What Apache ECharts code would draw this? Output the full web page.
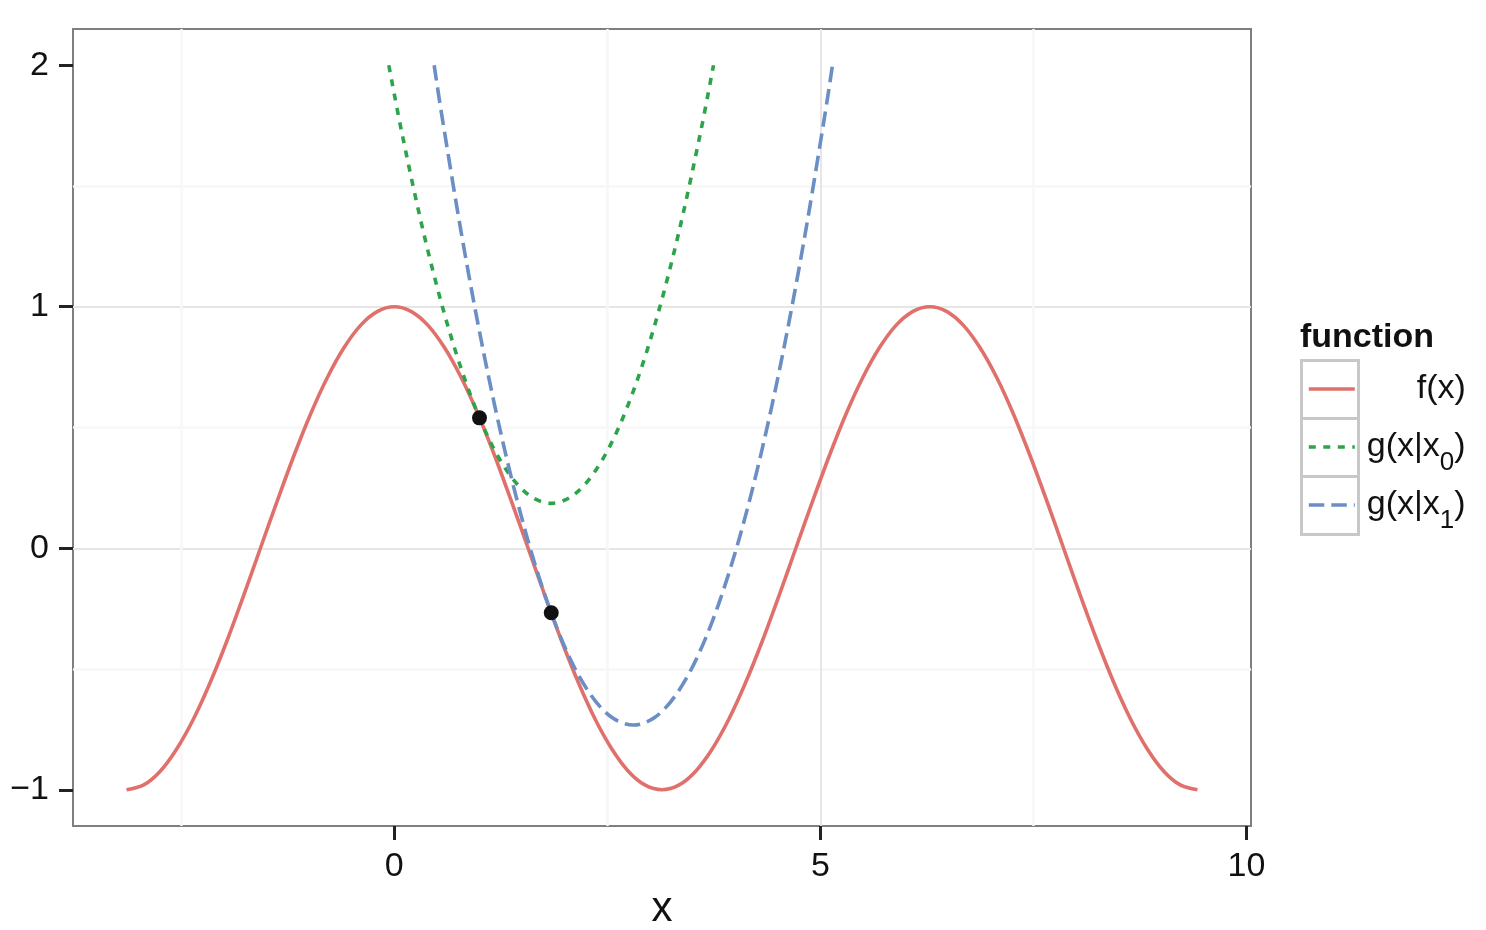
<!DOCTYPE html>
<html><head><meta charset="utf-8">
<script src="https://cdn.jsdelivr.net/npm/echarts@6/dist/echarts.min.js"></script>
<style>html,body{margin:0;padding:0;background:#fff}#c{width:1486px;height:930px}</style>
</head><body><div id="c"></div>
<script>
// f(x) curve
const fX = [-3.142, -2.945, -2.749, -2.553, -2.356, -2.160, -1.963, -1.767, -1.571, -1.374, -1.178, -0.982, -0.785, -0.589, -0.393, -0.196,
  0, 0.196, 0.393, 0.589, 0.785, 0.982, 1.178, 1.374, 1.571, 1.767, 1.963, 2.160, 2.356, 2.553, 2.749, 2.945,
  3.142, 3.338, 3.534, 3.731, 3.927, 4.123, 4.320, 4.516, 4.712, 4.909, 5.105, 5.301, 5.498, 5.694, 5.890, 6.087,
  6.283, 6.480, 6.676, 6.872, 7.069, 7.265, 7.461, 7.658, 7.854, 8.050, 8.247, 8.443, 8.639, 8.836, 9.032, 9.228, 9.425];
const fY = [-1, -0.981, -0.924, -0.831, -0.707, -0.556, -0.383, -0.195, 0, 0.195, 0.383, 0.556, 0.707, 0.831, 0.924, 0.981,
  1, 0.981, 0.924, 0.831, 0.707, 0.556, 0.383, 0.195, 0, -0.195, -0.383, -0.556, -0.707, -0.831, -0.924, -0.981,
  -1, -0.981, -0.924, -0.831, -0.707, -0.556, -0.383, -0.195, 0, 0.195, 0.383, 0.556, 0.707, 0.831, 0.924, 0.981,
  1, 0.981, 0.924, 0.831, 0.707, 0.556, 0.383, 0.195, 0, -0.195, -0.383, -0.556, -0.707, -0.831, -0.924, -0.981, -1];
// g(x|x0)
const g0X = [-0.064, 0.091, 0.341, 0.591, 0.841, 1.091, 1.341, 1.591, 1.841, 2.091, 2.341, 2.591, 2.841, 3.091, 3.341, 3.591, 3.746];
const g0Y = [2.0, 1.717, 1.311, 0.967, 0.686, 0.467, 0.311, 0.217, 0.186, 0.217, 0.311, 0.467, 0.686, 0.967, 1.311, 1.717, 2.0];
// g(x|x1)
const g1X = [0.468, 0.555, 0.805, 1.055, 1.305, 1.555, 1.805, 2.055, 2.305, 2.555, 2.805, 3.055, 3.305, 3.555, 3.805, 4.055, 4.305, 4.555, 4.805, 5.055, 5.142];
const g1Y = [2.0, 1.799, 1.268, 0.799, 0.393, 0.049, -0.232, -0.451, -0.607, -0.701, -0.732, -0.701, -0.607, -0.451, -0.232, 0.049, 0.393, 0.799, 1.268, 1.799, 2.0];
// points x0, x1
const ptX = [1.0, 1.842];
const ptY = [0.540, -0.267];

const xTicks = [0, 5, 10];
const yTicks = [-1, 0, 1, 2];
const seriesNames = ['f(x)', 'g(x|x0)', 'g(x|x1)'];
const legendLabels = {
  'f(x)': '{f|f(x)}',
  'g(x|x0)': '{a0|g(x|x}{s|0}{a|)}',
  'g(x|x1)': '{a0|g(x|x}{s|1}{a|)}'
};
const legendTitle = 'function';
const xTitle = 'x';

const FONT = "'Liberation Sans', Arial, Helvetica, sans-serif";
const TXT = '#111111';
const RED = '#e0706b', GREEN = '#2da44a', BLUE = '#6b8ec4';

function pairs(xs, ys) { return xs.map((x, i) => [x, ys[i]]); }
function fmtNum(v) { return v < 0 ? '\u2212' + Math.abs(v) : String(v); }

const chart = echarts.init(document.getElementById('c'), null, {renderer: 'canvas'});
const option = {
  animation: false,
  backgroundColor: '#ffffff',
  title: {
    text: legendTitle, left: 1300, top: 321, padding: 0,
    textStyle: {fontFamily: FONT, fontSize: 34, fontWeight: 'bold', color: TXT}
  },
  grid: {
    left: 73, right: 235, top: 29, bottom: 104,
    show: true, borderColor: '#7f7f7f', borderWidth: 2, backgroundColor: 'transparent',
    containLabel: false, outerBoundsMode: 'none'
  },
  xAxis: {
    type: 'value', min: -3.7699, max: 10.0531, splitNumber: 3,
    axisLine: {show: false, onZero: false},
    axisTick: {show: true, customValues: xTicks, length: 14, lineStyle: {color: '#222222', width: 3}},
    axisLabel: {customValues: xTicks, margin: 24, fontSize: 34, color: TXT, fontFamily: FONT, formatter: fmtNum},
    splitLine: {show: true, showMinLine: false, showMaxLine: false, lineStyle: {color: '#e6e6e6', width: 2}},
    minorTick: {show: false, splitNumber: 2},
    minorSplitLine: {show: true, lineStyle: {color: '#f7f7f7', width: 2.5}},
    name: xTitle, nameLocation: 'middle', nameGap: 58,
    nameTextStyle: {fontSize: 42, color: TXT, fontFamily: FONT}
  },
  yAxis: {
    type: 'value', min: -1.15, max: 2.15, splitNumber: 3,
    axisLine: {show: false, onZero: false},
    axisTick: {show: true, customValues: yTicks, length: 14, lineStyle: {color: '#222222', width: 3}},
    axisLabel: {customValues: yTicks, margin: 24, fontSize: 34, color: TXT, fontFamily: FONT, formatter: fmtNum},
    splitLine: {show: true, showMinLine: false, showMaxLine: false, lineStyle: {color: '#e6e6e6', width: 2}},
    minorTick: {show: false, splitNumber: 2},
    minorSplitLine: {show: true, lineStyle: {color: '#f7f7f7', width: 2.5}}
  },
  legend: {
    data: seriesNames, orient: 'vertical', left: 1307, top: 360, padding: 0,
    itemGap: 0, itemWidth: 46, itemHeight: 14, selectedMode: false,
    itemStyle: {opacity: 0},
    lineStyle: {width: 3.6},
    formatter: name => legendLabels[name],
    textStyle: {
      fontFamily: FONT, fontSize: 34, color: TXT, lineHeight: 58,
      rich: {
        f: {width: 106, align: 'right', fontFamily: FONT, fontSize: 34, color: TXT, lineHeight: 58},
        a0: {padding: [0, 0, 0, 7], fontFamily: FONT, fontSize: 34, color: TXT, lineHeight: 58},
        a: {fontFamily: FONT, fontSize: 34, color: TXT, lineHeight: 58},
        s: {fontFamily: FONT, fontSize: 26, color: TXT, lineHeight: 52, verticalAlign: 'bottom'}
      }
    }
  },
  graphic: [0, 1, 2].map(i => ({
    type: 'rect', z: 1, silent: true,
    shape: {x: 1301.5, y: 360.5 + i * 58, width: 57, height: 58},
    style: {fill: 'none', stroke: '#c8c8c8', lineWidth: 3}
  })),
  series: [
    {name: seriesNames[0], type: 'line', data: pairs(fX, fY), smooth: 0.33, symbol: 'none',
     lineStyle: {color: RED, width: 3.6}, itemStyle: {color: RED}, z: 2},
    {name: seriesNames[1], type: 'line', data: pairs(g0X, g0Y), smooth: 0.33, symbol: 'none',
     lineStyle: {color: GREEN, width: 3.6, type: [7, 7.5]}, itemStyle: {color: GREEN}, z: 3},
    {name: seriesNames[2], type: 'line', data: pairs(g1X, g1Y), smooth: 0.33, symbol: 'none',
     lineStyle: {color: BLUE, width: 3.6, type: [15.5, 7]}, itemStyle: {color: BLUE}, z: 3},
    {name: 'points', type: 'scatter', data: pairs(ptX, ptY), symbol: 'circle', symbolSize: 15,
     itemStyle: {color: '#111111', opacity: 1}, z: 5}
  ]
};
chart.setOption(option);
</script>
</body></html>
